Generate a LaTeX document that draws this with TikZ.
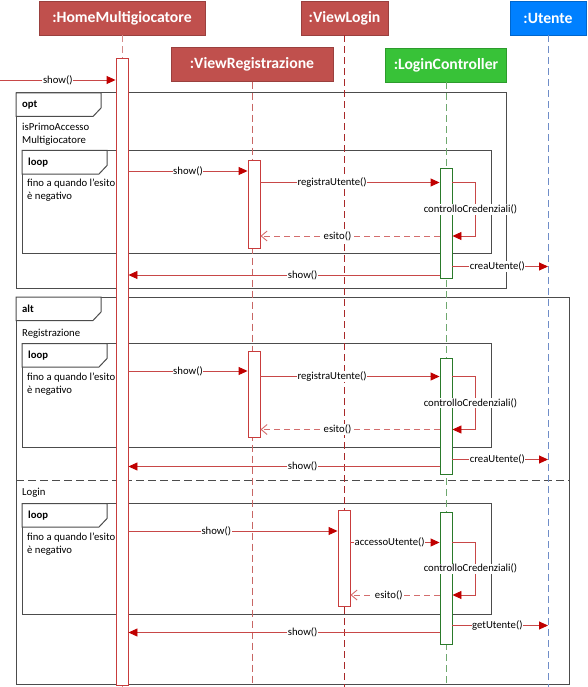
\documentclass[tikz,border=0pt]{standalone}
\usepackage{fontspec}
\setmainfont{Carlito}
\usetikzlibrary{arrows.meta}

\definecolor{hred}{HTML}{C0504D}
\definecolor{hgreen}{HTML}{38C238}
\definecolor{hblue}{HTML}{0080FF}
\definecolor{mline}{HTML}{C84848}
\definecolor{mhead}{HTML}{C00000}
\definecolor{lhome}{HTML}{D48A88}
\definecolor{lreg}{HTML}{C86664}
\definecolor{llog}{HTML}{A82828}
\definecolor{lctrl}{HTML}{6EA86E}
\definecolor{lute}{HTML}{6F8DC8}
\definecolor{actred}{HTML}{C83C3C}
\definecolor{actgreen}{HTML}{2A7A2A}

\begin{document}
\begin{tikzpicture}[x=1pt,y=-1pt,
    head/.style={fill=#1, draw=#1!80!black, text=white, font=\bfseries\fontsize{15.7}{18}\selectfont, minimum height=34pt, inner sep=0pt},
    life/.style={draw=#1, dash pattern=on 7pt off 4pt, line width=1pt},
    act/.style={draw=#1, fill=white, minimum width=12pt, inner sep=0pt, line width=0.9pt},
    msg/.style={draw=mline, line width=0.9pt, -{Triangle[length=9pt,width=8pt,color=mhead]}},
    ret/.style={draw=mline!80, line width=0.9pt, dash pattern=on 6pt off 4pt, -{Straight Barb[length=6pt,width=10pt]}},
    lbl/.style={fill=white, inner sep=0.6pt, font=\fontsize{10.7}{12}\selectfont},
    txt/.style={anchor=north west, align=left, inner sep=0pt, font=\fontsize{10.7}{13.3}\selectfont},
    fragbox/.style={draw=black!70, line width=1pt}]
    \useasboundingbox (0,0) rectangle (587,687);
    \coordinate (bot) at (0,687);

    % frames
    \draw[fragbox] (16,93) rectangle (506.5,288);
    \draw[fragbox] (22,150.5) rectangle (491,253);
    \draw[fragbox] (16,297) rectangle (569,684);
    \draw[fragbox] (22,343.5) rectangle (491,447);
    \draw[fragbox] (22,503.5) rectangle (491,614);
    \draw[fragbox, dash pattern=on 8pt off 4pt] (16,480) -- (569,480);
    \foreach \x/\y/\t in {16/93/opt, 22/150.5/loop, 16/297/alt, 22/343.5/loop, 22/503.5/loop} {
        \draw[fragbox, fill=white] (\x,\y) -- ++(85,0) -- ++(0,15) -- ++(-8,8.5) -- ++(-77,0) -- cycle;
        \node[anchor=west, inner sep=0pt, font=\bfseries\fontsize{10.7}{12}\selectfont] at (\x+6,\y+12) {\t};
    }
    \node[txt] at (22,123) {isPrimoAccesso\\Multigiocatore};
    \node[txt] at (22,328.5) {Registrazione};
    \node[txt] at (22,488) {Login};
    \foreach \y in {178.5, 372.5, 532.5} {
        \node[txt] at (27,\y) {fino a quando l'esito\\è negativo};
    }

    % headers and lifelines
    \node[head=hred, minimum width=166pt] (home) at (122,18) {:HomeMultigiocatore};
    \node[head=hred, minimum width=162pt] (reg) at (252,64.5) {:ViewRegistrazione};
    \node[head=hred, minimum width=87pt] (login) at (344.5,18) {:ViewLogin};
    \node[head=hgreen, minimum width=121pt] (ctrl) at (446,65) {:LoginController};
    \node[head=hblue, minimum width=76pt] (ute) at (548,18) {:Utente};
    \foreach \n/\c in {home/lhome, reg/lreg, login/llog, ctrl/lctrl, ute/lute} {
        \draw[life=\c] (\n.south) -- (\n.south |- bot);
    }

    % activations
    \foreach \n/\x/\ya/\yb/\c in {aHome/122/58/685/actred, aReg1/254/160/248.5/actred,
        aCtrl1/446/168.5/278.5/actgreen, aReg2/254/351/437.5/actred, aCtrl2/446/358.5/474.5/actgreen,
        aLog/344/510.5/606.5/actred, aCtrl3/446/512.5/644/actgreen} {
        \node[act=\c, minimum height={(\yb-\ya)*1pt}] (\n) at (\x,{(\ya+\yb)/2}) {};
    }

    % opt: first access
    \coordinate (start) at (0,80);
    \draw[msg] (start) -- node[lbl]{show()} (aHome.west |- start);
    \draw[msg] (aHome.east |- 0,171) -- node[lbl]{show()} (aReg1.west |- 0,171);
    \draw[msg] (aReg1.east |- 0,182.5) -- node[lbl,pos=0.4]{registraUtente()} (aCtrl1.west |- 0,182.5);
    \draw[msg] (aCtrl1.east |- 0,182.5) -- ++(23,0) |- node[lbl,pos=0.25,xshift=-5pt]{controlloCredenziali()} (aCtrl1.east |- 0,236);
    \draw[ret] (aCtrl1.west |- 0,236) -- node[lbl,pos=0.57]{esito()} (aReg1.east |- 0,236);
    \draw[msg] (aCtrl1.east |- 0,266.5) -- node[lbl,pos=0.47]{creaUtente()} (ute.south |- 0,266.5);
    \draw[msg] (aCtrl1.west |- 0,275) -- node[lbl,pos=0.44]{show()} (aHome.east |- 0,275);

    % alt: Registrazione
    \draw[msg] (aHome.east |- 0,371) -- node[lbl]{show()} (aReg2.west |- 0,371);
    \draw[msg] (aReg2.east |- 0,376.5) -- node[lbl,pos=0.4]{registraUtente()} (aCtrl2.west |- 0,376.5);
    \draw[msg] (aCtrl2.east |- 0,376.5) -- ++(23,0) |- node[lbl,pos=0.25,xshift=-5pt]{controlloCredenziali()} (aCtrl2.east |- 0,429.5);
    \draw[ret] (aCtrl2.west |- 0,429.5) -- node[lbl,pos=0.57]{esito()} (aReg2.east |- 0,429.5);
    \draw[msg] (aCtrl2.east |- 0,459.5) -- node[lbl,pos=0.47]{creaUtente()} (ute.south |- 0,459.5);
    \draw[msg] (aCtrl2.west |- 0,466.5) -- node[lbl,pos=0.44]{show()} (aHome.east |- 0,466.5);

    % alt: Login
    \draw[msg] (aHome.east |- 0,531) -- node[lbl,pos=0.42]{show()} (aLog.west |- 0,531);
    \draw[msg] (aLog.east |- 0,542.5) -- node[lbl,pos=0.44]{accessoUtente()} (aCtrl3.west |- 0,542.5);
    \draw[msg] (aCtrl3.east |- 0,542.5) -- ++(23,0) |- node[lbl,pos=0.25,xshift=-5pt]{controlloCredenziali()} (aCtrl3.east |- 0,595);
    \draw[ret] (aCtrl3.west |- 0,595) -- node[lbl,pos=0.57]{esito()} (aLog.east |- 0,595);
    \draw[msg] (aCtrl3.east |- 0,625.5) -- node[lbl,pos=0.47]{getUtente()} (ute.south |- 0,625.5);
    \draw[msg] (aCtrl3.west |- 0,632.5) -- node[lbl,pos=0.44]{show()} (aHome.east |- 0,632.5);
\end{tikzpicture}
\end{document}
